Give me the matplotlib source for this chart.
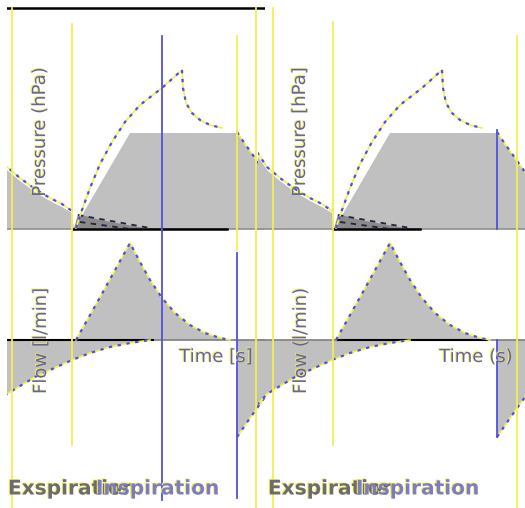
import matplotlib
matplotlib.use('Agg')
import matplotlib.pyplot as plt
import matplotlib.patheffects as pe

# one breathing cycle (panel-local pixel coords, y down)
p_dec_x = [-3, 7, 20, 35, 50, 62, 72]
p_dec_y = [152, 167, 178, 189, 198, 204, 211]
p_rise_x = [76, 82, 90, 100, 112, 125, 140, 162, 182]
p_rise_y = [228, 210, 188, 164, 142, 122, 105, 88, 70]
p_fall_x = [182, 183, 186, 192, 200, 210, 222]
p_fall_y = [70, 88, 103, 113, 120, 125, 128]
p_fill_x = [-3, -3, 7, 20, 35, 50, 62, 72, 74, 130, 237, 245, 255, 265, 265]
p_fill_y = [229, 155, 170, 181, 192, 201, 207, 213, 229, 133, 133, 145, 159, 173, 229]
p_tail_x = [237, 245, 255, 265]
p_tail_y = [132, 144, 158, 172]
dark_x = [74, 78, 100, 150]
dark_y = [229, 214, 220, 229]

f_neg_x = [-3, 7, 20, 35, 50, 72, 90, 110, 130, 150]
f_neg_y = [405, 394, 386, 377, 370, 360, 353, 347, 343, 340]
f_pos_x = [76, 103, 130, 140, 150, 162, 175, 190, 205, 220, 230]
f_pos_y = [340, 292, 243, 262, 280, 298, 313, 325, 333, 338, 340]
f_drop_x = [237, 237, 250, 265]
f_drop_y = [340, 437, 418, 397]

p_base = 229
f_base = 340

# per panel: (x, y0, y1)
yellow_left = [(12, 8, 508), (72, 24, 445), (237, 36, 250), (256, 8, 508)]
blue_left = [(162, 36, 500), (237, 253, 498)]
yellow_right = [(-3, 0, 508), (13, 8, 508), (73, 22, 445), (257, 36, 508)]
blue_right = [(237, 130, 229), (237, 340, 437)]

labels_left = ['Pressure (hPa)', 'Flow [l/min]', 'Time [s]']
labels_right = ['Pressure [hPa]', 'Flow (l/min)', 'Time (s)']
phase_names = ['Exspiration', 'Inspiration']

yellow = '#f4ee50'
blue = '#5050e0'
gray = '#c0c0c0'

fringe = [pe.SimplePatchShadow(offset=(-0.8, 0.6), shadow_rgbFace=yellow, alpha=0.9), pe.Normal()]


def curve(ax, x, y):
    ax.plot(x, y, color=yellow, lw=1.2, zorder=4)
    ax.plot(x, y, color=blue, lw=1.6, linestyle=(0, (1.5, 2.5)), zorder=5)


def panel(ax, yl, bl, labels, top_line, p_dark, f_dark):
    ax.fill(p_fill_x, p_fill_y, color=gray, lw=0, zorder=1)
    ax.fill(dark_x, dark_y, color='#8a8a8a', lw=0, zorder=2)
    ax.plot([78, 150], [215, 228], color='#222244', lw=1.3, linestyle=(0, (3, 3)), zorder=3)
    ax.plot([80, 130], [222, 229], color='#222244', lw=1.3, linestyle=(0, (3, 3)), zorder=3)
    ax.fill(f_neg_x + [150, -3], f_neg_y + [f_base, f_base], color=gray, lw=0, zorder=1)
    ax.fill(f_pos_x, f_pos_y, color=gray, lw=0, zorder=1)
    ax.fill(f_drop_x + [265], f_drop_y + [f_base], color=gray, lw=0, zorder=1)

    curve(ax, p_dec_x, p_dec_y)
    curve(ax, p_rise_x, p_rise_y)
    curve(ax, p_fall_x, p_fall_y)
    curve(ax, p_tail_x, p_tail_y)
    curve(ax, f_neg_x, f_neg_y)
    curve(ax, f_pos_x, f_pos_y)
    curve(ax, f_drop_x[1:], f_drop_y[1:])

    ax.plot([-5, 270], [p_base, p_base], color='#909090', lw=1.2, zorder=3)
    ax.plot(p_dark, [p_base, p_base], color='black', lw=1.8, zorder=3)
    ax.plot([-5, 270], [f_base, f_base], color='#808080', lw=1.2, zorder=3)
    ax.plot(f_dark, [f_base, f_base], color='black', lw=1.5, zorder=3)
    if top_line:
        ax.plot([7, 265], [8, 8], color='black', lw=1.8, zorder=3)

    for x, y0, y1 in yl:
        ax.plot([x, x], [y0, y1], color=yellow, lw=1.3, zorder=6)
    for x, y0, y1 in bl:
        ax.plot([x, x], [y0, y1], color=blue, lw=1.3, zorder=6)

    kw = dict(fontsize=13, color='#65659a', path_effects=fringe, zorder=8)
    ax.text(40, 132, labels[0], rotation=90, ha='center', va='center', **kw)
    ax.text(41, 341, labels[1], rotation=90, ha='center', va='center', **kw)
    ax.text(216, 357, labels[2], ha='center', va='center', **kw)
    ax.text(8, 489, phase_names[0], fontsize=14.5, fontweight='bold', color='#6c6c6c',
            ha='left', va='center', path_effects=fringe, zorder=8)
    ax.text(96, 489, phase_names[1], fontsize=14.5, fontweight='bold', color='#7070c8',
            ha='left', va='center', alpha=0.9, path_effects=fringe, zorder=9)


fig = plt.figure(figsize=(5.25, 5.08), dpi=100)
fig.patch.set_facecolor('white')

ax1 = fig.add_axes([7 / 525, 0, (265 - 7) / 525, 1])
ax1.set_xlim(7, 265)
ax1.set_ylim(508, 0)
ax1.axis('off')
panel(ax1, yellow_left, blue_left, labels_left, True, [73, 227], [7, 153])

ax2 = fig.add_axes([258 / 525, 0, (525 - 258) / 525, 1])
ax2.set_xlim(-2, 265)
ax2.set_ylim(508, 0)
ax2.axis('off')
ax2.patch.set_alpha(0)
panel(ax2, yellow_right, blue_right, labels_right, False, [73, 160], [76, 227])

fig.savefig('out.png', dpi=100)
